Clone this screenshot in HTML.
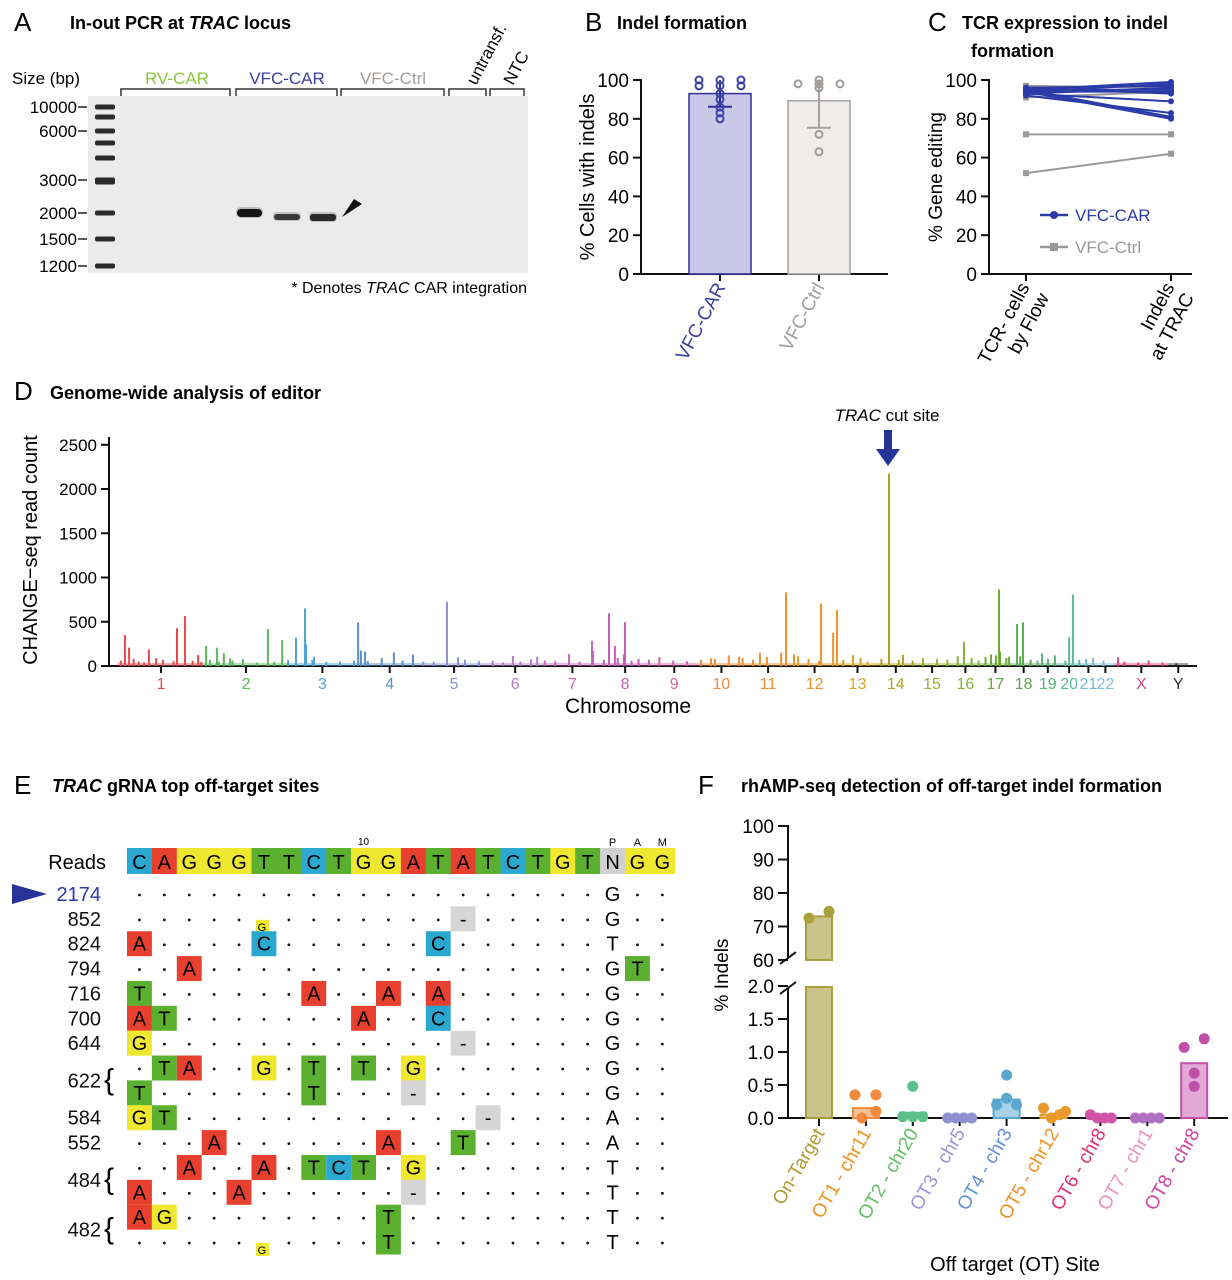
<!DOCTYPE html>
<html><head><meta charset="utf-8"><style>
html,body{margin:0;padding:0;background:#fff;}
svg{display:block;font-family:"Liberation Sans",sans-serif;}
</style></head><body>
<svg id="fig" width="1232" height="1280" viewBox="0 0 1232 1280" xmlns="http://www.w3.org/2000/svg">
<!-- Panel A -->
<g>
<text x="14" y="31" font-size="26">A</text>
<text x="70" y="29" font-size="18" font-weight="bold">In-out PCR at <tspan font-style="italic">TRAC</tspan> locus</text>
<text x="12" y="84" font-size="17">Size (bp)</text>
<rect x="88" y="96" width="440" height="177" fill="#ebebeb"/>
<g id="ladder"></g>
<g id="gelLabels" font-size="17" text-anchor="end"></g>
<text x="177" y="84" font-size="17" text-anchor="middle" fill="#8cc63f">RV-CAR</text>
<text x="287" y="84" font-size="17" text-anchor="middle" fill="#3a3fa0">VFC-CAR</text>
<text x="393" y="84" font-size="17" text-anchor="middle" fill="#a39d9a">VFC-Ctrl</text>
<text transform="translate(476,86) rotate(-62)" font-size="17">untransf.</text>
<text transform="translate(513,86) rotate(-62)" font-size="17">NTC</text>
<g fill="none" stroke="#333" stroke-width="1.5">
<path d="M121,96 V89 H230 V96"/><path d="M236,96 V89 H337 V96"/><path d="M341,96 V89 H444 V96"/><path d="M449,96 V89 H486 V96"/><path d="M490,96 V89 H524 V96"/>
</g>
<g>
<rect x="236" y="207" width="27" height="11" rx="5" fill="#bcbcbc"/>
<rect x="237" y="209" width="25" height="8" rx="4" fill="#151515"/>
<rect x="273" y="212" width="28" height="9" rx="4" fill="#c4c4c4"/>
<rect x="274" y="214" width="26" height="6" rx="3" fill="#3a3a3a"/>
<rect x="309" y="212" width="28" height="10" rx="4" fill="#c0c0c0"/>
<rect x="310" y="214" width="26" height="7" rx="3" fill="#2a2a2a"/>
</g>
<path d="M342,217 L362,204 L354,199 Z" fill="#111"/>
<text x="527" y="293" font-size="16" text-anchor="end">* Denotes <tspan font-style="italic">TRAC</tspan> CAR integration</text>
</g>

<!-- Panel B -->
<g>
<text x="585" y="31" font-size="26">B</text>
<text x="617" y="29" font-size="18" font-weight="bold">Indel formation</text>
<text transform="translate(594,177) rotate(-90)" font-size="20" text-anchor="middle">% Cells with indels</text>
<g id="bAxis"></g><g id="bMarks"></g>
</g>

<!-- Panel C -->
<g>
<text x="928" y="31" font-size="26">C</text>
<text x="962" y="29" font-size="18" font-weight="bold">TCR expression to indel</text>
<text x="971" y="57" font-size="18" font-weight="bold">formation</text>
<text transform="translate(942,177) rotate(-90)" font-size="19" text-anchor="middle">% Gene editing</text>
<g id="cAxis"></g><g id="cMarks"></g>
<g>
<line x1="1040" y1="215" x2="1068" y2="215" stroke="#2a3aa8" stroke-width="2.5"/><circle cx="1054" cy="215" r="4" fill="#2a3aa8"/>
<text x="1075" y="221" font-size="17" fill="#2a3aa8">VFC-CAR</text>
<line x1="1040" y1="247" x2="1068" y2="247" stroke="#999" stroke-width="2.5"/><rect x="1050" y="243" width="8" height="8" fill="#999"/>
<text x="1075" y="253" font-size="17" fill="#999">VFC-Ctrl</text>
</g>
</g>

<!-- Panel D -->
<g>
<text x="14" y="400" font-size="26">D</text>
<text x="50" y="399" font-size="18" font-weight="bold">Genome-wide analysis of editor</text>
<text transform="translate(37,550) rotate(-90)" font-size="20" text-anchor="middle">CHANGE−seq read count</text>
<text x="628" y="713" font-size="21" text-anchor="middle">Chromosome</text>
<text x="887" y="421" font-size="17" text-anchor="middle"><tspan font-style="italic">TRAC</tspan> cut site</text>
<path d="M884,430 H892 V449 H900 L888,466 L876,449 H884 Z" fill="#26349a"/>
<g id="dAxis"></g><g id="dMarks"></g>
</g>

<!-- Panel E -->
<g>
<text x="14" y="794" font-size="26">E</text>
<text x="52" y="792" font-size="18" font-weight="bold"><tspan font-style="italic">TRAC</tspan> gRNA top off-target sites</text>
<text x="106" y="869" font-size="20" text-anchor="end">Reads</text>
<path d="M12,884 L47,894 L12,904 Z" fill="#26349a"/>
<g id="eGrid"></g>
</g>

<!-- Panel F -->
<g>
<text x="698" y="794" font-size="26">F</text>
<text x="741" y="792" font-size="18" font-weight="bold">rhAMP-seq detection of off-target indel formation</text>
<text transform="translate(728,975) rotate(-90)" font-size="19" text-anchor="middle">% Indels</text>
<text x="1015" y="1271" font-size="20" text-anchor="middle">Off target (OT) Site</text>
<g id="fAxis"></g><g id="fMarks"></g>
</g>
</svg>
<script>
const NS='http://www.w3.org/2000/svg';
function mk(tag,attrs,parent){const e=document.createElementNS(NS,tag);for(const k in attrs)e.setAttribute(k,attrs[k]);if(parent)parent.appendChild(e);return e;}

// ---- Panel A data
const ladderSizes=[10000,6000,3000,2000,1500,1200];
const ladderBandY=[107,117,131,143,158,180,213,239,266];
const ladderLabelY=[107,131,180,213,239,266];
{
 const g=document.getElementById('ladder');
 ladderBandY.forEach((y,i)=>{const r=mk('rect',{x:95,y:y-2.5,width:20,height:(y===180?7:5),rx:2,fill:'#2a2a2a'},g);
 
 });
 const gl=document.getElementById('gelLabels');
 ladderSizes.forEach((s,i)=>{const t=mk('text',{x:77,y:ladderLabelY[i]+6},gl);t.textContent=s;
 
 
 const l=mk('line',{x1:78,x2:87,y1:ladderLabelY[i],y2:ladderLabelY[i],stroke:'#222','stroke-width':1.5},gl);
 
 });
}

// ---- Panel B data
const bCategories=['VFC-CAR','VFC-Ctrl'];
const bMeans=[93,89.3];
const bErrLow=[86.2,75.4];
const bErrHigh=[100,100];
const bPointsCar=[100,100,100,97,97,97,93,90,86,83,80];
const bPointsCtrl=[100,98,98,98,96,72,63];
const bTicks=[0,20,40,60,80,100];
{
 const y=v=>274-v*1.94;
 const ax=document.getElementById('bAxis');
 mk('line',{x1:641,x2:641,y1:79,y2:275,stroke:'#111','stroke-width':2},ax);
 mk('line',{x1:640,x2:888,y1:274,y2:274,stroke:'#111','stroke-width':2},ax);
 bTicks.forEach(t=>{mk('line',{x1:633,x2:641,y1:y(t),y2:y(t),stroke:'#111','stroke-width':2},ax);
  const tx=mk('text',{x:629,y:y(t)+7,'font-size':19,'text-anchor':'end'},ax);tx.textContent=t;
  
  });
 const cx=[720,819];
 const fills=['#cbc7e8','#efedec'],strokes=['#2d2f94','#a6a19f'],ptc=['#3b43a8','#a09c9a'],lab=['#3a3fa0','#a39d9a'];
 const pts=[bPointsCar,bPointsCtrl];
 const m=document.getElementById('bMarks');
 bCategories.forEach((c,i)=>{
  mk('line',{x1:cx[i],x2:cx[i],y1:274,y2:281,stroke:'#111','stroke-width':2},ax);
  const r=mk('rect',{x:cx[i]-31,y:y(bMeans[i]),width:62,height:274-y(bMeans[i]),fill:fills[i],stroke:strokes[i],'stroke-width':1.5},m);
  
  
  mk('line',{x1:cx[i],x2:cx[i],y1:y(bErrHigh[i]),y2:y(bErrLow[i]),stroke:strokes[i],'stroke-width':2},m);
  mk('line',{x1:cx[i]-12,x2:cx[i]+12,y1:y(bErrLow[i]),y2:y(bErrLow[i]),stroke:strokes[i],'stroke-width':2},m);
  const counts={};
  pts[i].forEach(v=>{counts[v]=(counts[v]||0)+1;const k=counts[v]-1;const off=[0,-21,21,-10,10][k%5];
   const p=mk('circle',{cx:cx[i]+off,cy:y(v),r:3.5,fill:'none',stroke:ptc[i],'stroke-width':2},m);
   
   });
  const t=mk('text',{transform:`translate(${cx[i]+6},287) rotate(-62)`,'font-size':19,'text-anchor':'end',fill:lab[i]},m);t.textContent=c;
  
  
 });
}

// ---- Panel C data
const cCarFlow=[95,94,96,93,95,94,96,93,92,95,94];
const cCarIndel=[99,98,97,96,95,94,93,89,83,81,80];
const cCtrlFlow=[97,91,72,52];
const cCtrlIndel=[96,94,72,62];
const cTicks=[0,20,40,60,80,100];
{
 const y=v=>274-v*1.94, x0=1026, x1=1171;
 const ax=document.getElementById('cAxis');
 mk('line',{x1:989,x2:989,y1:79,y2:275,stroke:'#111','stroke-width':2},ax);
 mk('line',{x1:988,x2:1192,y1:274,y2:274,stroke:'#111','stroke-width':2},ax);
 cTicks.forEach(t=>{mk('line',{x1:981,x2:989,y1:y(t),y2:y(t),stroke:'#111','stroke-width':2},ax);
  const tx=mk('text',{x:977,y:y(t)+7,'font-size':19,'text-anchor':'end'},ax);tx.textContent=t;
  
  });
 [x0,x1].forEach(x=>mk('line',{x1:x,x2:x,y1:274,y2:281,stroke:'#111','stroke-width':2},ax));
 const m=document.getElementById('cMarks');
 cCtrlFlow.forEach((v,i)=>{const l=mk('line',{x1:x0,y1:y(v),x2:x1,y2:y(cCtrlIndel[i]),stroke:'#9a9a9a','stroke-width':2},m);
  
  
  mk('rect',{x:x0-3,y:y(v)-3,width:6,height:6,fill:'#9a9a9a'},m);mk('rect',{x:x1-3,y:y(cCtrlIndel[i])-3,width:6,height:6,fill:'#9a9a9a'},m);});
 cCarFlow.forEach((v,i)=>{const l=mk('line',{x1:x0,y1:y(v),x2:x1,y2:y(cCarIndel[i]),stroke:'#2a3aa8','stroke-width':2},m);
  
  
  mk('circle',{cx:x0,cy:y(v),r:3,fill:'#2a3aa8'},m);mk('circle',{cx:x1,cy:y(cCarIndel[i]),r:3,fill:'#2a3aa8'},m);});
 const l1=mk('text',{transform:`translate(${x0+4},287) rotate(-62)`,'font-size':19,'text-anchor':'end'},m);
 l1.innerHTML='<tspan x="0" dy="0">TCR- cells</tspan><tspan x="0" dy="22">by Flow</tspan>';
 
 
 const l2=mk('text',{transform:`translate(${x1+4},287) rotate(-62)`,'font-size':19,'text-anchor':'end'},m);
 l2.innerHTML='<tspan x="0" dy="0">Indels</tspan><tspan x="0" dy="22">at TRAC</tspan>';
 
 
}

// ---- Panel D data
const chromNames=['1','2','3','4','5','6','7','8','9','10','11','12','13','14','15','16','17','18','19','20','21','22','X','Y'];
const chromLenMb=[248,242,198,190,181,171,159,145,138,134,135,133,114,107,102,90,83,80,59,64,47,51,156,57];
const chromColors=['#e8474c','#5cb85c','#4fa3d6','#5b8fc7','#8e8ed8','#b57ac9','#c466c0','#c75bb5','#d462a5','#f08a3c','#f0902c','#e8962a','#d4a520','#b0a020','#9cb030','#88b038','#6aa838','#5aab50','#5ab07a','#5ab8a0','#70b8d0','#80c0e0','#e04080','#333333'];
const peakMb=[20,32,89,170,193,231,254,285,305,323,432,473,513,539,542,565,692,700,712,795,850,948,980,1138,1208,1300,1366,1369,1415,1432,1461,1458,1709,1790,1850,1911,1925,1948,2026,2061,2072,2118,2222,2262,2438,2516,2539,2542,2568,2591,2608,2663,2741,2752,2882];
const peakReads=[350,207,188,425,564,124,226,207,147,86,417,293,320,650,244,105,493,173,162,154,128,726,98,113,105,135,286,173,594,226,496,132,86,105,150,150,831,132,707,376,632,124,2174,124,274,132,865,162,105,474,493,143,323,808,98];
const noiseMb=[8,45,60,75,110,130,160,215,240,265,290,330,360,400,450,490,560,600,640,680,720,760,820,880,910,1000,1040,1080,1110,1160,1190,1230,1260,1330,1400,1440,1480,1500,1530,1560,1600,1640,1680,1720,1760,1800,1830,1870,1960,1990,2020,2090,2140,2160,2200,2250,2290,2320,2360,2390,2420,2460,2480,2500,2530,2560,2600,2630,2650,2680,2700,2730,2770,2790,2810,2840,2900,2940,2970,3010,3050];
const noiseReads=[60,80,50,40,90,70,55,60,45,70,50,60,80,40,50,65,70,45,50,60,55,90,60,50,45,70,55,60,40,50,75,60,55,50,70,90,60,80,70,100,60,55,70,80,120,90,70,100,110,80,60,70,90,50,80,70,60,90,80,70,110,90,60,100,120,90,110,70,60,80,120,60,70,80,90,60,50,40,60,40,30];
const dTicks=[0,500,1000,1500,2000,2500];
{
 const xs=mb=>118+mb*0.347, ys=v=>666-v*0.0885;
 const starts=[];let acc=0;chromLenMb.forEach(l=>{starts.push(acc);acc+=l;});
 const chromOf=mb=>{let c=0;for(let i=0;i<starts.length;i++)if(mb>=starts[i])c=i;return c;};
 const ax=document.getElementById('dAxis');
 mk('line',{x1:109,x2:109,y1:437,y2:667,stroke:'#111','stroke-width':2},ax);
 mk('line',{x1:108,x2:1197,y1:666,y2:666,stroke:'#111','stroke-width':2},ax);
 dTicks.forEach(t=>{mk('line',{x1:101,x2:109,y1:ys(t),y2:ys(t),stroke:'#111','stroke-width':2},ax);
  const tx=mk('text',{x:97,y:ys(t)+6,'font-size':17,'text-anchor':'end'},ax);tx.textContent=t;
  
  });
 const m=document.getElementById('dMarks');
 chromNames.forEach((c,i)=>{const cx=xs(starts[i]+chromLenMb[i]/2);
  mk('line',{x1:cx,x2:cx,y1:666,y2:673,stroke:'#111','stroke-width':2},ax);
  const t=mk('text',{x:cx,y:689,'font-size':16,'text-anchor':'middle',fill:chromColors[i]},ax);t.textContent=c;
  
  
  const b=mk('rect',{x:xs(starts[i]),y:663,width:chromLenMb[i]*0.347,height:3,fill:chromColors[i],opacity:0.45},m);
  
  });
 const draw=(arrMb,arrV,nm)=>{const n=Math.min(arrMb.length,arrV.length);for(let i=0;i<n;i++){const c=chromOf(arrMb[i]);
  const l=mk('line',{x1:xs(arrMb[i]),x2:xs(arrMb[i]),y1:666,y2:ys(arrV[i]),stroke:chromColors[c],'stroke-width':2},m);
  
  }};
 draw(noiseMb,noiseReads,'background-read-bar');
 draw(peakMb,peakReads,'site-read-bar');
}

// ---- Panel E data
const refSeq=['C','A','G','G','G','T','T','C','T','G','G','A','T','A','T','C','T','G','T','N','G','G'];
const siteReads=['2174','852','824','794','716','700','644','622','','584','552','484','','482',''];
const siteMismatch=[
 [],[[5,'g'],[13,'-']],[[0,'A'],[5,'C'],[12,'C']],[[2,'A'],[20,'T']],[[0,'T'],[7,'A'],[10,'A'],[12,'A']],
 [[0,'A'],[1,'T'],[9,'A'],[12,'C']],[[0,'G'],[13,'-']],[[1,'T'],[2,'A'],[5,'G'],[7,'T'],[9,'T'],[11,'G']],
 [[0,'T'],[7,'T'],[11,'-']],[[0,'G'],[1,'T'],[14,'-']],[[3,'A'],[10,'A'],[13,'T']],
 [[2,'A'],[5,'A'],[7,'T'],[8,'C'],[9,'T'],[11,'G']],[[0,'A'],[4,'A'],[11,'-']],[[0,'A'],[1,'G'],[10,'T']],[[5,'g'],[10,'T']]];
const pamBase=['G','G','T','G','G','G','G','G','G','A','A','T','T','T','T'];
{
 const base={A:'#e8402e',C:'#2aa8d0',G:'#f0e830',T:'#5cb030',N:'#d0d0d0','-':'#d6d6d6'};
 const g=document.getElementById('eGrid');
 const x0=127,cw=24.9,rowY=i=>894+i*24.86;
 refSeq.forEach((b,i)=>{const r=mk('rect',{x:x0+i*cw,y:848,width:cw+0.3,height:26,fill:base[b]},g);
  
  
  const t=mk('text',{x:x0+i*cw+cw/2,y:869,'font-size':20,'text-anchor':'middle'},g);t.textContent=b;
  
  });
 const t10=mk('text',{x:x0+9.5*cw,y:845,'font-size':10,'text-anchor':'middle'},g);t10.textContent='10';
 ['P','A','M'].forEach((c,i)=>{const t=mk('text',{x:x0+(19.5+i)*cw,y:846,'font-size':11,'text-anchor':'middle'},g);t.textContent=c;});
 siteMismatch.forEach((row,ri)=>{
  const cy=rowY(ri);const mm={};row.forEach(([c,l])=>mm[c]=l);
  for(let c=0;c<22;c++){const cx=x0+c*cw+cw/2;
   if(c===19){const t=mk('text',{x:cx,y:cy+7,'font-size':20,'text-anchor':'middle'},g);t.textContent=pamBase[ri];continue;}
   const l=mm[c];
   if(l===undefined){mk('circle',{cx:cx,cy:cy+1,r:1.4,fill:'#111'},g);}
   else if(l==='g'){const r=mk('rect',{x:cx-8,y:cy+1,width:13,height:13,fill:base.G},g);
    
    
    const t=mk('text',{x:cx-2,y:cy+12,'font-size':11,'text-anchor':'middle'},g);t.textContent='G';}
   else{const r=mk('rect',{x:cx-cw/2,y:cy-12.5,width:cw,height:25,fill:base[l]},g);
    
    
    const t=mk('text',{x:cx,y:cy+7,'font-size':20,'text-anchor':'middle'},g);t.textContent=l;}
  }
  if(siteReads[ri]){const paired=(siteReads[ri+1]==='');
   const ty=paired?cy+12.4:cy;
   const t=mk('text',{x:101,y:ty+7,'font-size':20,'text-anchor':'end',fill:ri===0?'#2a3aa8':'#111'},g);t.textContent=siteReads[ri];
   
   
   if(paired){const b=mk('text',{x:104,y:ty+9,'font-size':30},g);b.textContent='{';}}
 });
}

// ---- Panel F data
const fSites=['On-Target','OT1 - chr11','OT2 - chr20','OT3 - chr5','OT4 - chr3','OT5 - chr12','OT6 - chr8','OT7 - chr1','OT8 - chr8'];
const fMeans=[73,0.15,0.08,0,0.28,0.05,0.02,0,0.83];
const fPoints=[[72.5,74.5],[0.35,0.35,0.0,0.1],[0.48,0.02,0.02,0.02],[0,0,0,0],[0.65,0.3,0.2,0.2],[0.15,0,0.05,0.1],[0.05,0,0,0],[0,0,0,0],[1.2,1.07,0.68,0.48]];
const fUpperTicks=[60,70,80,90,100];
const fLowerTicks=['0.0','0.5','1.0','1.5','2.0'];
{
 const yL=v=>1118-v*66, yU=v=>960-(v-60)*3.35;
 const y=v=>v>2?yU(v):yL(v);
 const jit=[[-10,10],[-11,10,-4,10],[0,-10,0,10],[-12,-4,4,12],[0,0,-10,10],[-10,-2,6,12],[-10,-3,4,11],[-12,-4,4,12],[10,-10,0,0]];
 const ax=document.getElementById('fAxis');
 mk('line',{x1:788,x2:788,y1:825,y2:957,stroke:'#111','stroke-width':2},ax);
 mk('line',{x1:788,x2:788,y1:988,y2:1119,stroke:'#111','stroke-width':2},ax);
 mk('line',{x1:780,x2:796,y1:964,y2:952,stroke:'#111','stroke-width':2},ax);
 mk('line',{x1:780,x2:796,y1:994,y2:982,stroke:'#111','stroke-width':2},ax);
 mk('line',{x1:787,x2:1228,y1:1118,y2:1118,stroke:'#111','stroke-width':2},ax);
 fUpperTicks.forEach(t=>{mk('line',{x1:778,x2:788,y1:yU(t),y2:yU(t),stroke:'#111','stroke-width':2},ax);
  const tx=mk('text',{x:774,y:yU(t)+7,'font-size':19,'text-anchor':'end'},ax);tx.textContent=t;
  
  });
 fLowerTicks.forEach(t=>{mk('line',{x1:778,x2:788,y1:yL(+t),y2:yL(+t),stroke:'#111','stroke-width':2},ax);
  const tx=mk('text',{x:774,y:yL(+t)+7,'font-size':19,'text-anchor':'end'},ax);tx.textContent=t;
  
  });
 const cols=['#a9a03a','#f08a3c','#5cc08a','#9090d0','#5aa8d0','#e89a2a','#d055a8','#b070c0','#c050a8'];
 const fills=['#cbc48a','#f7c49a','#a9e0c4','#c8c8e8','#a9d2e6','#f3cc92','#e8aad2','#dcbce2','#e2a8d6'];
 const labs=['#b09a30','#f0901c','#60c060','#a090d8','#6090d8','#f09020','#e0306a','#f090c0','#d040a0'];
 const m=document.getElementById('fMarks');
 fSites.forEach((s,i)=>{const cx=819+i*46.9;
  mk('line',{x1:cx,x2:cx,y1:1118,y2:1126,stroke:'#111','stroke-width':2},ax);
  if(fMeans[i]>2){
   const r1=mk('rect',{x:cx-13,y:yU(fMeans[i]),width:26,height:960-yU(fMeans[i]),fill:fills[i],stroke:cols[i],'stroke-width':2},m);
   
   
   mk('rect',{x:cx-13,y:987,width:26,height:131,fill:fills[i],stroke:cols[i],'stroke-width':2},m);
  } else if(fMeans[i]>0){
   const r=mk('rect',{x:cx-13,y:yL(fMeans[i]),width:26,height:1118-yL(fMeans[i]),fill:fills[i],stroke:cols[i],'stroke-width':2},m);
   
   
  }
  fPoints[i].forEach((v,k)=>{
   const p=mk('circle',{cx:cx+jit[i][k],cy:y(v),r:5.5,fill:cols[i]},m);
   
   });
  const t=mk('text',{transform:`translate(${cx+6},1133) rotate(-60)`,'font-size':19,'text-anchor':'end',fill:labs[i]},m);t.textContent=s;
  
  
 });
}
</script>
</body></html>
